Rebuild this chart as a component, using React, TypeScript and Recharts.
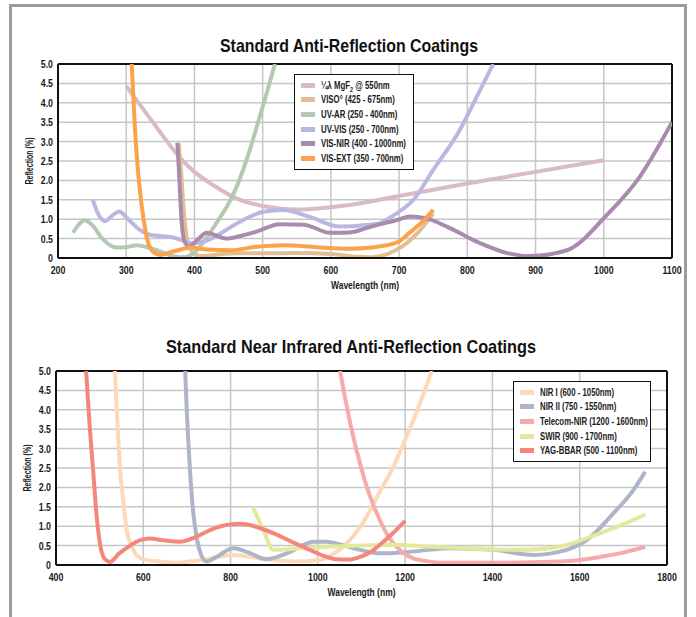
import React from 'react';
import { LineChart, Line, XAxis, YAxis, CartesianGrid, ReferenceLine } from 'recharts';

const FONT = "'Liberation Sans', Arial, 'DejaVu Sans', sans-serif";
const SQUEEZE = 0.8;

// ---------- Top chart data (wavelength nm, reflection %) ----------
const mgf2Data = [
  { x: 300, y: 4.43 }, { x: 320, y: 3.95 }, { x: 340, y: 3.48 }, { x: 360, y: 3.0 }, { x: 380, y: 2.56 },
  { x: 400, y: 2.22 }, { x: 430, y: 1.85 }, { x: 460, y: 1.55 }, { x: 500, y: 1.34 }, { x: 550, y: 1.25 },
  { x: 600, y: 1.31 }, { x: 650, y: 1.43 }, { x: 700, y: 1.6 }, { x: 750, y: 1.76 }, { x: 800, y: 1.92 },
  { x: 850, y: 2.07 }, { x: 900, y: 2.22 }, { x: 950, y: 2.37 }, { x: 1000, y: 2.52 },
];
const visoData = [
  { x: 377, y: 2.95 }, { x: 381, y: 2.1 }, { x: 384, y: 1.3 }, { x: 388, y: 0.6 }, { x: 393, y: 0.25 },
  { x: 400, y: 0.1 }, { x: 410, y: 0.05 },
  { x: 430, y: 0.08 }, { x: 460, y: 0.12 }, { x: 500, y: 0.12 }, { x: 550, y: 0.13 }, { x: 600, y: 0.1 },
  { x: 640, y: 0.03 }, { x: 660, y: 0.02 }, { x: 675, y: 0.06 }, { x: 695, y: 0.2 }, { x: 711, y: 0.38 },
  { x: 730, y: 0.7 }, { x: 750, y: 1.15 },
];
const uvarData = [
  { x: 222, y: 0.65 }, { x: 230, y: 0.85 }, { x: 239, y: 0.97 }, { x: 250, y: 0.85 }, { x: 265, y: 0.5 },
  { x: 286, y: 0.27 }, { x: 300, y: 0.28 }, { x: 315, y: 0.33 }, { x: 330, y: 0.28 }, { x: 345, y: 0.2 },
  { x: 365, y: 0.07 }, { x: 381, y: 0.02 }, { x: 397, y: 0.1 }, { x: 415, y: 0.45 }, { x: 432, y: 0.9 },
  { x: 450, y: 1.4 }, { x: 462, y: 1.84 }, { x: 481, y: 2.78 }, { x: 490, y: 3.3 }, { x: 500, y: 3.9 },
  { x: 510, y: 4.5 }, { x: 518, y: 5.0 },
];
const uvvisData = [
  { x: 251, y: 1.5 }, { x: 260, y: 1.1 }, { x: 269, y: 0.95 }, { x: 280, y: 1.1 }, { x: 290, y: 1.2 },
  { x: 300, y: 1.05 }, { x: 318, y: 0.75 }, { x: 335, y: 0.6 }, { x: 369, y: 0.53 }, { x: 398, y: 0.38 },
  { x: 420, y: 0.46 }, { x: 440, y: 0.65 }, { x: 462, y: 0.89 }, { x: 501, y: 1.19 }, { x: 530, y: 1.24 },
  { x: 569, y: 1.06 }, { x: 613, y: 0.81 }, { x: 652, y: 0.85 }, { x: 672, y: 0.9 }, { x: 692, y: 1.1 },
  { x: 721, y: 1.5 }, { x: 750, y: 2.27 }, { x: 789, y: 3.3 }, { x: 815, y: 4.2 }, { x: 838, y: 5.0 },
];
const visnirData = [
  { x: 375, y: 2.97 }, { x: 378, y: 2.0 }, { x: 381, y: 1.0 }, { x: 385, y: 0.45 }, { x: 392, y: 0.3 },
  { x: 405, y: 0.48 }, { x: 418, y: 0.65 }, { x: 432, y: 0.58 }, { x: 447, y: 0.5 }, { x: 470, y: 0.58 },
  { x: 491, y: 0.68 }, { x: 525, y: 0.87 }, { x: 560, y: 0.86 }, { x: 599, y: 0.65 }, { x: 628, y: 0.66 },
  { x: 657, y: 0.8 }, { x: 697, y: 0.98 }, { x: 716, y: 1.07 }, { x: 740, y: 1.02 }, { x: 770, y: 0.81 },
  { x: 819, y: 0.38 }, { x: 860, y: 0.12 }, { x: 892, y: 0.05 }, { x: 946, y: 0.2 }, { x: 1004, y: 1.1 },
  { x: 1053, y: 2.1 }, { x: 1100, y: 3.5 },
];
const visextData = [
  { x: 308, y: 5.0 }, { x: 312, y: 3.6 }, { x: 316, y: 2.5 }, { x: 320, y: 1.75 }, { x: 325, y: 1.05 },
  { x: 332, y: 0.4 }, { x: 340, y: 0.15 }, { x: 350, y: 0.08 }, { x: 365, y: 0.15 }, { x: 380, y: 0.22 },
  { x: 393, y: 0.27 }, { x: 418, y: 0.22 }, { x: 453, y: 0.2 }, { x: 491, y: 0.29 }, { x: 530, y: 0.33 },
  { x: 579, y: 0.28 }, { x: 628, y: 0.24 }, { x: 660, y: 0.27 }, { x: 697, y: 0.4 }, { x: 716, y: 0.66 },
  { x: 735, y: 0.95 }, { x: 750, y: 1.24 },
];

// ---------- Bottom chart data ----------
const nir1Data = [
  { x: 535, y: 5.0 }, { x: 541, y: 3.6 }, { x: 547, y: 2.45 }, { x: 555, y: 1.55 }, { x: 562, y: 0.9 },
  { x: 575, y: 0.45 }, { x: 589, y: 0.21 }, { x: 610, y: 0.12 }, { x: 638, y: 0.09 }, { x: 676, y: 0.06 },
  { x: 715, y: 0.1 }, { x: 753, y: 0.17 }, { x: 806, y: 0.26 }, { x: 867, y: 0.17 }, { x: 944, y: 0.09 },
  { x: 1005, y: 0.13 }, { x: 1030, y: 0.25 }, { x: 1058, y: 0.47 }, { x: 1085, y: 0.8 }, { x: 1112, y: 1.25 },
  { x: 1140, y: 1.85 }, { x: 1173, y: 2.53 }, { x: 1195, y: 3.1 }, { x: 1219, y: 3.74 }, { x: 1240, y: 4.35 },
  { x: 1261, y: 5.0 },
];
const nir2Data = [
  { x: 696, y: 5.0 }, { x: 700, y: 3.9 }, { x: 707, y: 2.45 }, { x: 714, y: 1.4 }, { x: 722, y: 0.73 },
  { x: 733, y: 0.25 }, { x: 745, y: 0.09 }, { x: 768, y: 0.21 }, { x: 806, y: 0.43 }, { x: 837, y: 0.34 },
  { x: 883, y: 0.15 }, { x: 929, y: 0.3 }, { x: 990, y: 0.6 }, { x: 1020, y: 0.6 }, { x: 1060, y: 0.5 },
  { x: 1097, y: 0.39 }, { x: 1142, y: 0.3 }, { x: 1200, y: 0.33 }, { x: 1303, y: 0.43 }, { x: 1402, y: 0.39 },
  { x: 1494, y: 0.26 }, { x: 1570, y: 0.39 }, { x: 1616, y: 0.64 }, { x: 1677, y: 1.33 }, { x: 1723, y: 1.93 },
  { x: 1750, y: 2.4 },
];
const telecomData = [
  { x: 1051, y: 5.0 }, { x: 1066, y: 4.1 }, { x: 1081, y: 3.31 }, { x: 1097, y: 2.6 }, { x: 1112, y: 2.02 },
  { x: 1127, y: 1.55 }, { x: 1142, y: 1.16 }, { x: 1157, y: 0.82 }, { x: 1173, y: 0.56 }, { x: 1195, y: 0.32 },
  { x: 1219, y: 0.17 }, { x: 1250, y: 0.1 }, { x: 1288, y: 0.06 }, { x: 1417, y: 0.06 }, { x: 1555, y: 0.09 },
  { x: 1600, y: 0.13 }, { x: 1647, y: 0.21 }, { x: 1700, y: 0.32 }, { x: 1750, y: 0.47 },
];
const swirData = [
  { x: 851, y: 1.5 }, { x: 875, y: 0.9 }, { x: 898, y: 0.39 }, { x: 960, y: 0.43 }, { x: 1020, y: 0.47 },
  { x: 1100, y: 0.5 }, { x: 1173, y: 0.52 }, { x: 1260, y: 0.47 }, { x: 1341, y: 0.43 }, { x: 1456, y: 0.39 },
  { x: 1520, y: 0.42 }, { x: 1570, y: 0.52 }, { x: 1647, y: 0.82 }, { x: 1723, y: 1.16 }, { x: 1750, y: 1.3 },
];
const yagData = [
  { x: 469, y: 5.0 }, { x: 477, y: 3.6 }, { x: 485, y: 2.45 }, { x: 492, y: 1.4 }, { x: 500, y: 0.6 },
  { x: 512, y: 0.15 }, { x: 524, y: 0.08 }, { x: 545, y: 0.3 }, { x: 570, y: 0.5 }, { x: 590, y: 0.63 },
  { x: 615, y: 0.68 }, { x: 650, y: 0.63 }, { x: 684, y: 0.6 }, { x: 720, y: 0.72 }, { x: 753, y: 0.9 },
  { x: 790, y: 1.03 }, { x: 825, y: 1.06 }, { x: 860, y: 0.98 }, { x: 898, y: 0.82 }, { x: 940, y: 0.6 },
  { x: 974, y: 0.43 }, { x: 1010, y: 0.25 }, { x: 1043, y: 0.15 }, { x: 1070, y: 0.14 }, { x: 1097, y: 0.21 },
  { x: 1120, y: 0.33 }, { x: 1142, y: 0.52 }, { x: 1170, y: 0.8 }, { x: 1200, y: 1.14 },
];

// ---------- Ticks & text ----------
const topXTicks = [200, 300, 400, 500, 600, 700, 800, 900, 1000, 1100];
const bottomXTicks = [400, 600, 800, 1000, 1200, 1400, 1600, 1800];
const yTicks = [0, 0.5, 1, 1.5, 2, 2.5, 3, 3.5, 4, 4.5, 5];

const topTitle = 'Standard Anti-Reflection Coatings';
const bottomTitle = 'Standard Near Infrared Anti-Reflection Coatings';
const xLabel = 'Wavelength (nm)';
const yLabel = 'Reflection (%)';

const topSeries = [
  { key: 'mgf2', name: 'mgf2', data: mgf2Data, color: '#dbbac8' },
  { key: 'viso', name: 'VISO° (425 - 675nm)', data: visoData, color: '#e2bf93' },
  { key: 'uvar', name: 'UV-AR (250 - 400nm)', data: uvarData, color: '#b4c9b2' },
  { key: 'uvvis', name: 'UV-VIS (250 - 700nm)', data: uvvisData, color: '#bab8e0' },
  { key: 'visnir', name: 'VIS-NIR (400 - 1000nm)', data: visnirData, color: '#a98bae' },
  { key: 'visext', name: 'VIS-EXT (350 - 700nm)', data: visextData, color: '#fba24b' },
];
const bottomSeries = [
  { key: 'nir1', name: 'NIR I (600 - 1050nm)', data: nir1Data, color: '#fdd9b7' },
  { key: 'nir2', name: 'NIR II (750 - 1550nm)', data: nir2Data, color: '#aeb5c9' },
  { key: 'telecom', name: 'Telecom-NIR (1200 - 1600nm)', data: telecomData, color: '#f6aaa9' },
  { key: 'swir', name: 'SWIR (900 - 1700nm)', data: swirData, color: '#e2e99b' },
  { key: 'yag', name: 'YAG-BBAR (500 - 1100nm)', data: yagData, color: '#f5877a' },
];

const textStyle = { fontFamily: FONT, fontSize: 11, fontWeight: 700, fill: '#1a1a1a' };
const fmtY = (v: number) => (v === 0 ? '0' : v.toFixed(1));

const XTick = (props: any) => {
  const { x, y, payload } = props;
  return (
    <g transform={`translate(${x},${y})`}>
      <text transform={`scale(${SQUEEZE},1)`} textAnchor="middle" dy="0.72em" style={textStyle}>{payload.value}</text>
    </g>
  );
};
const YTick = (props: any) => {
  const { x, y, payload } = props;
  return (
    <g transform={`translate(${x},${y})`}>
      <text transform={`scale(${SQUEEZE},1)`} textAnchor="end" dy="0.36em" style={textStyle}>{fmtY(payload.value)}</text>
    </g>
  );
};

const YLabelContent = (props: any) => {
  const vb = props.viewBox || {};
  const cx = (vb.x || 0) + 11;
  const cy = (vb.y || 0) + (vb.height || 0) / 2;
  return (
    <text x={cx} y={cy} transform={`rotate(-90, ${cx}, ${cy})`} textAnchor="middle" dominantBaseline="central"
      textLength={47} lengthAdjust="spacingAndGlyphs" style={textStyle}>{yLabel}</text>
  );
};
const XLabelContent = (props: any) => {
  const vb = props.viewBox || {};
  const cx = (vb.x || 0) + (vb.width || 0) / 2;
  const cy = (vb.y || 0) + 31;
  return (
    <text x={cx} y={cy} textAnchor="middle" textLength={68} lengthAdjust="spacingAndGlyphs" style={textStyle}>{xLabel}</text>
  );
};

const seriesLabel = (s: any) =>
  s.key === 'mgf2' ? (
    <span>¼λ MgF<sub style={{ fontSize: 7, verticalAlign: 'sub', lineHeight: 0 }}>2</sub> @ 550nm</span>
  ) : (
    s.name
  );

const LegendBox = ({ series, style }: any) => (
  <div style={{ position: 'absolute', background: '#fff', border: '1.5px solid #111', boxSizing: 'border-box',
    padding: '3px 0 0 6px', fontFamily: FONT, fontSize: 10, fontWeight: 700, color: '#1a1a1a', ...style }}>
    {series.map((s: any) => (
      <div key={s.key} style={{ display: 'flex', alignItems: 'center', height: 14.6, whiteSpace: 'nowrap' }}>
        <div style={{ width: 14, height: 5, background: s.color, marginRight: 6, flex: 'none' }} />
        <div style={{ transform: 'scaleX(0.78)', transformOrigin: 'left center' }}>{seriesLabel(s)}</div>
      </div>
    ))}
  </div>
);

const Chart = ({ series, xTicks, domain, width, height, margin }: any) => (
  <LineChart width={width} height={height} margin={margin}>
    <CartesianGrid stroke="#c6c6c6" strokeWidth={1.5} />
    <XAxis type="number" dataKey="x" domain={domain} ticks={xTicks} allowDataOverflow interval={0}
      tick={<XTick />} tickLine={false} tickSize={0} tickMargin={8} height={34}
      axisLine={{ stroke: '#111', strokeWidth: 2 }} label={<XLabelContent />} />
    <YAxis type="number" domain={[0, 5]} ticks={yTicks} allowDataOverflow interval={0} width={40}
      tick={<YTick />} tickLine={false} tickSize={0} tickMargin={5}
      axisLine={{ stroke: '#111', strokeWidth: 2 }} label={<YLabelContent />} />
    <ReferenceLine y={5} stroke="#111" strokeWidth={2} />
    <ReferenceLine x={domain[1]} stroke="#111" strokeWidth={2} />
    {series.map((s: any) => (
      <Line key={s.key} data={s.data} dataKey="y" name={s.key} type="monotone" stroke={s.color} strokeWidth={4}
        dot={false} activeDot={false} isAnimationActive={false} />
    ))}
  </LineChart>
);

export default function App() {
  return (
    <div style={{ position: 'absolute', left: 0, top: 0, width: 696, height: 617, overflow: 'hidden', background: '#fff' }}>
      <div style={{ position: 'absolute', left: 9, top: 4, width: 678, height: 700, border: '3px solid #9b9b9b', boxSizing: 'border-box' }} />
      <div style={{ position: 'absolute', left: 0, top: 0 }}>
        <Chart series={topSeries} xTicks={topXTicks} domain={[200, 1100]} width={696} height={300}
          margin={{ top: 64, right: 24, left: 18, bottom: 8 }} />
      </div>
      <div style={{ position: 'absolute', left: 0, top: 300 }}>
        <Chart series={bottomSeries} xTicks={bottomXTicks} domain={[400, 1800]} width={696} height={317}
          margin={{ top: 71, right: 29, left: 16, bottom: 18 }} />
      </div>
      <svg width={696} height={617} style={{ position: 'absolute', left: 0, top: 0, pointerEvents: 'none' }}>
        <text x={349} y={52} textAnchor="middle" textLength={258} lengthAdjust="spacingAndGlyphs"
          style={{ fontFamily: FONT, fontSize: 19, fontWeight: 700, fill: '#111' }}>{topTitle}</text>
        <text x={351} y={353} textAnchor="middle" textLength={370} lengthAdjust="spacingAndGlyphs"
          style={{ fontFamily: FONT, fontSize: 19, fontWeight: 700, fill: '#111' }}>{bottomTitle}</text>
      </svg>
      <LegendBox series={topSeries} style={{ left: 294, top: 74, width: 120, height: 96 }} />
      <LegendBox series={bottomSeries} style={{ left: 513, top: 381, width: 138, height: 81 }} />
    </div>
  );
}
